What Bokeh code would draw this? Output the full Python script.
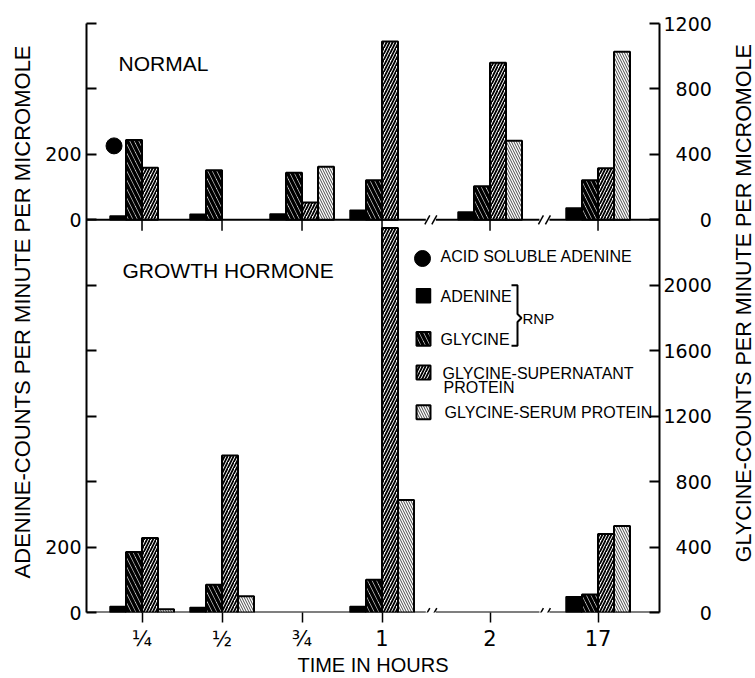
from math import pi
from bokeh.plotting import figure
from bokeh.layouts import row
from bokeh.models import Range1d, LinearAxis, FixedTicker, Label, ColumnDataSource
from bokeh.embed import file_html
from bokeh.resources import INLINE

# ---------------- data ----------------
time_labels = ["\u00bc", "\u00bd", "\u00be", "1", "2", "17"]   # TIME IN HOURS

# NORMAL  (adenine on left axis, glycine on right axis)
normal_acid_soluble_adenine = [226, 0, 0, 0, 0, 0]
normal_adenine_rnp = [12, 17, 18, 29, 24, 36]
normal_glycine_rnp = [488, 303, 288, 242, 205, 242]
normal_glycine_supernatant = [318, 0, 106, 1090, 960, 315]
normal_glycine_serum = [0, 0, 324, 0, 483, 1027]

# GROWTH HORMONE
gh_adenine_rnp = [18, 15, 0, 18, 0, 48]
gh_glycine_rnp = [370, 170, 0, 200, 0, 110]
gh_glycine_supernatant = [455, 960, 0, 2350, 0, 480]
gh_glycine_serum = [20, 100, 0, 687, 0, 528]

adenine_ticks_normal = [0, 200, 400, 600]
adenine_labels_normal = ["0", "200", "", ""]
adenine_ticks_gh = [0, 200, 400, 600, 800, 1000]
adenine_labels_gh = ["0", "200", "", "", "", ""]
glycine_ticks_normal = [0, 400, 800, 1200]
glycine_ticks_gh = [0, 400, 800, 1200, 1600, 2000]

# ---------------- layout ----------------
PAGE_W, PAGE_H = 755, 678
LT_W, RT_W = 36, 27                 # side strips holding the vertical titles
W = PAGE_W - LT_W - RT_W            # main figure width
H = PAGE_H
BL, BT, BB = 50, 23, 61
FRAME_W = 573
BR = W - BL - FRAME_W
FRAME_H = H - BT - BB
ADE_B, ADE_T = 1200, 600            # adenine span of each panel
GLY_B, GLY_T = 2400, 1200           # glycine span of each panel
Y_TOTAL = ADE_B + ADE_T
PY = FRAME_H / Y_TOTAL              # px per adenine unit
PX = 80.0                           # px per x unit
X0 = 0.306
XPOS = [1, 2, 3, 4, 5.35, 6.7]
BREAKS = [4.61, 6.03]
BAR_W = 0.2
OFFS = [-0.3, -0.1, 0.1, 0.3]

FONT = "Liberation Sans"
NUMFONT = "DejaVu Sans"

FRAME_LEFT_PAGE = LT_W + BL
FRAME_BOTTOM_PAGE = BT + FRAME_H

def dx(px):   # page px -> x data
    return X0 + (px - FRAME_LEFT_PAGE) / PX

def dy(py):   # page px -> default y data
    return (FRAME_BOTTOM_PAGE - py) / PY

p = figure(width=W, height=H, output_backend="svg", toolbar_location=None,
           x_range=Range1d(X0, X0 + FRAME_W / PX), y_range=Range1d(0, Y_TOTAL),
           min_border_left=BL, min_border_right=BR, min_border_top=BT,
           min_border_bottom=BB, outline_line_color=None,
           background_fill_color="white", border_fill_color="white")
p.xgrid.visible = False
p.ygrid.visible = False

p.extra_y_ranges = {
    "adeT": Range1d(ADE_T - Y_TOTAL, ADE_T),
    "glyB": Range1d(0, GLY_B + GLY_T),
    "glyT": Range1d(GLY_T - (GLY_B + GLY_T), GLY_T),
}

# ----- left axis (adenine) -----
la = p.yaxis[0]
lticks = adenine_ticks_gh + [ADE_B + t for t in adenine_ticks_normal]
llabels = adenine_labels_gh + adenine_labels_normal
la.ticker = FixedTicker(ticks=lticks)
la.major_label_overrides = {t: l for t, l in zip(lticks, llabels)}
la.major_tick_in = 10
la.major_tick_out = 0
la.minor_tick_line_color = None
la.axis_line_width = 2
la.major_tick_line_width = 2
la.major_label_standoff = 5
la.major_label_text_font = NUMFONT
la.major_label_text_font_size = "19px"
la.major_label_text_color = "black"

# ----- right axis (glycine) -----
ra = LinearAxis(y_range_name="glyB")
rticks = glycine_ticks_gh + [GLY_B + t for t in glycine_ticks_normal]
rvals = glycine_ticks_gh + glycine_ticks_normal
FS = "\u2007"
ra.ticker = FixedTicker(ticks=rticks)
ra.major_label_overrides = {t: FS * (4 - len(str(v))) + str(v) for t, v in zip(rticks, rvals)}
ra.major_tick_in = 10
ra.major_tick_out = 0
ra.minor_tick_line_color = None
ra.axis_line_width = 2
ra.major_tick_line_width = 2
ra.major_label_standoff = 4
ra.major_label_text_font = NUMFONT
ra.major_label_text_font_size = "19px"
ra.major_label_text_color = "black"
p.add_layout(ra, "right")

# ----- bottom axis (time) -----
xa = p.xaxis[0]
xa.ticker = FixedTicker(ticks=XPOS)
xa.major_label_overrides = {t: l for t, l in zip(XPOS, time_labels)}
xa.axis_line_color = None
xa.major_tick_in = 0
xa.major_tick_out = 10
xa.major_tick_line_width = 1.5
xa.minor_tick_line_color = None
xa.major_label_standoff = 4
xa.major_label_text_font = NUMFONT
xa.major_label_text_font_size = "21px"
xa.major_label_text_color = "black"
xa.axis_label = "TIME IN HOURS"
xa.axis_label_standoff = 0
xa.axis_label_text_font = FONT
xa.axis_label_text_font_size = "20px"
xa.axis_label_text_font_style = "normal"
xa.axis_label_text_color = "black"

# ----- baselines with breaks -----
def baseline(y):
    g = 5 / PX
    xs0 = [X0, BREAKS[0] + g, BREAKS[1] + g]
    xs1 = [BREAKS[0] - g, BREAKS[1] - g, X0 + FRAME_W / PX]
    p.segment(x0=xs0, y0=[y] * 3, x1=xs1, y1=[y] * 3, line_color="black", line_width=2)
    sx, hw, hh = 3.5 / PX, 2.5 / PX, 4.5 / PY
    cx = [b + s for b in BREAKS for s in (-sx, sx)]
    p.segment(x0=[c - hw for c in cx], y0=[y - hh] * 4, x1=[c + hw for c in cx],
              y1=[y + hh] * 4, line_color="black", line_width=1.5)

baseline(0)
baseline(ADE_B)
p.segment(x0=XPOS, y0=[ADE_B] * 6, x1=XPOS, y1=[ADE_B - 11 / PY] * 6,
          line_color="black", line_width=1.5)

# ----- bars -----
STY_ADE = dict(fill_color="black", line_color="black", line_width=1.5)
STY_RNP = dict(fill_color="white", line_color="black", line_width=2,
               hatch_pattern="\\", hatch_scale=9, hatch_weight=3.5, hatch_color="black")
STY_SUP = dict(fill_color="white", line_color="black", line_width=2,
               hatch_pattern="/", hatch_scale=6, hatch_weight=1.8, hatch_color="black")
STY_SER = dict(fill_color="white", line_color="black", line_width=2,
               hatch_pattern="\\", hatch_scale=5, hatch_weight=0.9, hatch_color="#333333")

def bars(vals, off, rng, sty):
    xs = [XPOS[i] + off for i, v in enumerate(vals) if v > 0]
    tops = [v for v in vals if v > 0]
    src = ColumnDataSource(dict(x=xs, top=tops))
    kw = {} if rng is None else {"y_range_name": rng}
    p.vbar(x="x", top="top", bottom=0, width=BAR_W, source=src, **kw, **sty)

bars(normal_adenine_rnp, OFFS[0], "adeT", STY_ADE)
bars(normal_glycine_rnp, OFFS[1], "glyT", STY_RNP)
bars(normal_glycine_supernatant, OFFS[2], "glyT", STY_SUP)
bars(normal_glycine_serum, OFFS[3], "glyT", STY_SER)

bars(gh_adenine_rnp, OFFS[0], None, STY_ADE)
bars(gh_glycine_rnp, OFFS[1], "glyB", STY_RNP)
bars(gh_glycine_supernatant, OFFS[2], "glyB", STY_SUP)
bars(gh_glycine_serum, OFFS[3], "glyB", STY_SER)

asa_x = [XPOS[i] - 0.35 for i, v in enumerate(normal_acid_soluble_adenine) if v > 0]
asa_y = [v for v in normal_acid_soluble_adenine if v > 0]
p.scatter(x=asa_x, y=asa_y, size=16, marker="circle", fill_color="black",
          line_color="black", y_range_name="adeT")

# ----- legend (drawn) -----
p.scatter(x=[dx(422)], y=[dy(260)], size=16, marker="circle", fill_color="black", line_color="black")
sw = [(297.5, STY_ADE), (341, STY_RNP), (375, STY_SUP), (415, STY_SER)]
for yy, sty in sw:
    p.rect(x=[dx(423)], y=[dy(yy)], width=14 / PX, height=14 / PY, **sty)

def lab(px, py, text, size, align="left", angle=0.0, font=FONT):
    p.add_layout(Label(x=dx(px), y=dy(py), text=text, text_font=font,
                       text_font_size=size, text_align=align, text_baseline="middle",
                       angle=angle, text_color="black"))

lab(440, 258, "ACID SOLUBLE ADENINE", "16px")
lab(440, 298.5, "ADENINE", "16px")
lab(440, 341.5, "GLYCINE", "16px")
lab(442, 375.5, "GLYCINE-SUPERNATANT", "16px")
lab(443, 390.5, "PROTEIN", "16px")
lab(444, 415.5, "GLYCINE-SERUM PROTEIN", "16px")
lab(522, 321, "RNP", "15px")
bx = [511, 517, 517, 521, 517, 517, 511]
by = [287, 287, 316, 320, 324, 348, 348]
p.line(x=[dx(v) for v in bx], y=[dy(v) for v in by], line_color="black", line_width=2)

lab(118, 63, "NORMAL", "21px")
lab(122, 272, "GROWTH HORMONE", "21px")

# ----- side strips with the vertical axis titles -----
def strip(width, cx, cy, text, size):
    s = figure(width=width, height=H, output_backend="svg", toolbar_location=None,
               x_range=Range1d(0, width), y_range=Range1d(0, H),
               x_axis_location=None, y_axis_location=None,
               min_border=0, outline_line_color=None,
               background_fill_color="white", border_fill_color="white")
    s.grid.visible = False
    s.add_layout(Label(x=cx, y=H - cy, text=text, text_font=FONT, text_font_size=size,
                       text_align="center", text_baseline="middle", angle=pi / 2,
                       text_color="black"))
    return s

lt = strip(LT_W, 22, 332, "ADENINE-COUNTS PER MINUTE PER MICROMOLE", "22px")
rt = strip(RT_W, 743 - (LT_W + W), 322, "GLYCINE-COUNTS PER MINUTE PER MICROMOLE", "21.5px")

layout = row(lt, p, rt)
open("out.html", "w").write(file_html(layout, INLINE))
